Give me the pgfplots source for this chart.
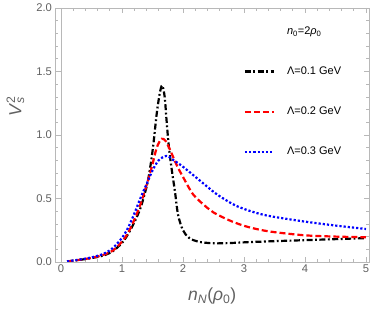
\documentclass[border=0pt]{standalone}
\usepackage{fontspec}
\setmainfont{Liberation Sans}
\usepackage{pgfplots}
\pgfplotsset{compat=1.18}
\definecolor{framegray}{gray}{0.72}
\definecolor{labgray}{gray}{0.38}
\pgfplotstableread{
x y
0.1 0.004
0.3 0.016
0.45 0.027
0.6 0.04
0.72 0.055
0.85 0.085
1.0 0.15
1.1 0.22
1.2 0.31
1.3 0.42
1.38 0.55
1.43 0.65
1.48 0.8
1.52 0.95
1.57 1.17
1.62 1.33
1.66 1.39
1.7 1.3
1.73 1.12
1.76 0.95
1.79 0.82
1.83 0.68
1.87 0.55
1.92 0.37
2.0 0.25
2.1 0.19
2.25 0.16
2.5 0.147
2.8 0.15
3.1 0.157
3.5 0.164
4.0 0.172
4.5 0.18
5.0 0.188
}\blackdata
\pgfplotstableread{
x y
0.1 0.004
0.3 0.017
0.5 0.032
0.7 0.057
0.85 0.09
1.0 0.16
1.1 0.23
1.2 0.33
1.3 0.45
1.4 0.6
1.49 0.75
1.57 0.9
1.65 0.97
1.72 0.95
1.8 0.87
1.9 0.76
2.0 0.67
2.17 0.53
2.39 0.43
2.5 0.39
2.75 0.33
3.0 0.285
3.25 0.255
3.5 0.235
4.0 0.21
4.5 0.2
5.0 0.195
}\reddata
\pgfplotstableread{
x y
0.1 0.005
0.3 0.019
0.5 0.036
0.7 0.065
0.85 0.11
1.0 0.19
1.1 0.27
1.21 0.39
1.3 0.5
1.4 0.61
1.5 0.72
1.6 0.8
1.73 0.835
1.85 0.8
2.0 0.75
2.28 0.64
2.55 0.535
2.82 0.455
3.0 0.418
3.25 0.38
3.5 0.355
4.0 0.318
4.5 0.287
5.0 0.26
}\bluedata
\begin{document}
\begin{tikzpicture}
\useasboundingbox (-55.5pt,-50pt) rectangle (318.5pt,262pt);
\begin{axis}[
 scale only axis, width=313.5pt, height=254pt,
 xmin=-0.09, xmax=5.05, ymin=0, ymax=2,
 xtick={0,1,2,3,4,5}, ytick={0,0.5,1,1.5,2},
 minor x tick num=4, minor y tick num=4,
 yticklabel style={/pgf/number format/.cd,fixed,fixed zerofill,precision=1},
 /pgf/number format/assume math mode=true,
 tick label style={font=\fontsize{11.2}{13}\selectfont, color=labgray},
 xticklabel style={yshift=1pt},
 axis line style={framegray, line width=0.8pt},
 tick style={framegray, line width=0.6pt},
 major tick length=5pt, minor tick length=3pt,
 tick align=inside,
 xlabel={\textit{n}\textsubscript{\textit{N}}(\textit{ρ}\textsubscript{0})},
 ylabel={\textit{V}\rlap{\textsuperscript{2}}\textsubscript{\textit{s}}},
 label style={font=\fontsize{17.5}{19}\selectfont, color=labgray},
 xlabel style={at={(axis description cs:0.5,0)}, anchor=center, yshift=-34pt},
 ylabel style={at={(axis description cs:-0.128,0.61)}, anchor=center},
 legend style={draw=none, fill=none, at={(rel axis cs:0.6,0.935)}, anchor=north west,
   font=\fontsize{11}{13}\selectfont, row sep=27pt, column sep=10pt, inner sep=0pt},
 legend cell align=left,
 legend image code/.code={\draw[#1] (0pt,0pt) -- (29pt,0pt);},
]
\draw[framegray, line width=0.6pt] (axis cs:0,0) -- (axis cs:0,2);
\addlegendimage{empty legend}
\addlegendentry{\textit{n}\textsubscript{0}=2\textit{ρ}\textsubscript{0}}
\addplot[black, line width=2.2pt, smooth, dash pattern=on 6pt off 2.5pt on 1.8pt off 2.5pt] table {\blackdata};
\addlegendentry{Λ=0.1 GeV}
\addplot[red, line width=2.2pt, smooth, dash pattern=on 6pt off 3pt] table {\reddata};
\addlegendentry{Λ=0.2 GeV}
\addplot[blue, line width=2.2pt, smooth, dash pattern=on 2.2pt off 2pt] table {\bluedata};
\addlegendentry{Λ=0.3 GeV}
\end{axis}
\end{tikzpicture}
\end{document}
